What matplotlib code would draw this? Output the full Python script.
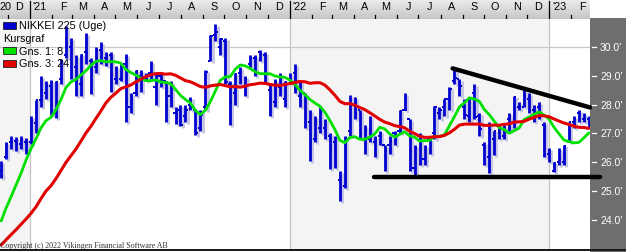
import numpy as np
import pandas as pd
import matplotlib
matplotlib.use("Agg")
import matplotlib.pyplot as plt
import matplotlib.dates as mdates
from matplotlib.patches import Rectangle
from matplotlib.transforms import blended_transform_factory
from matplotlib.colors import LinearSegmentedColormap

# ---------------- data (Nikkei 225 weekly, thousands) ----------------
week_end = pd.date_range("2020-11-20", periods=119, freq="W-FRI")

opens = [
    25.70, 26.20, 26.70, 26.75, 26.65, 26.70, 26.70,
    27.35, 28.15, 28.40, 28.65, 27.80, 28.90, 29.70, 30.00, 29.30, 28.70, 29.80, 29.50, 29.30,
    29.90, 29.60, 29.70, 28.90, 28.90, 29.40, 27.90, 28.40, 29.00, 28.95, 29.10, 28.60, 29.00,
    28.80, 28.30, 27.70, 27.80, 27.60, 28.00, 27.80, 27.20, 27.90, 29.50, 30.40, 30.00, 30.20,
    28.70, 28.40, 29.10, 28.60, 29.40, 29.60, 29.80, 29.70, 28.50, 28.10, 28.60, 28.20, 28.90,
    29.10, 28.30, 28.40, 27.40, 26.80, 27.20, 27.20, 26.90, 26.70, 25.40, 25.20, 27.10, 28.00,
    27.80, 26.80, 26.80, 26.70, 26.90, 26.60, 26.60, 27.00, 27.10, 27.80, 27.50, 25.80, 26.90,
    26.10, 26.80, 27.00, 27.70, 27.90, 28.20, 28.80, 28.90, 27.90, 27.60, 28.40, 27.60, 26.60,
    26.20, 26.80, 27.30, 26.90, 27.50, 27.40, 27.90, 27.90, 28.20, 27.80, 27.90, 27.30, 26.30,
    25.70, 26.00, 26.00, 26.70, 27.40, 27.70, 27.50, 27.50,
]
highs = [
    26.06, 26.71, 26.90, 26.89, 26.90, 26.85, 27.60,
    28.14, 28.98, 28.82, 28.86, 28.80, 29.56, 30.71, 30.30, 29.70, 29.75, 30.48, 29.60, 30.00,
    30.17, 29.83, 29.80, 29.35, 29.40, 29.75, 28.40, 29.20, 29.20, 29.10, 29.50, 29.10, 29.10,
    28.80, 28.80, 27.90, 28.00, 28.00, 28.25, 27.85, 27.80, 29.20, 30.40, 30.80, 30.30, 30.30,
    28.80, 29.10, 29.30, 29.00, 29.70, 29.70, 29.90, 29.80, 28.70, 28.90, 29.10, 28.80, 29.10,
    29.39, 28.80, 28.40, 27.80, 27.60, 27.90, 27.50, 27.00, 26.90, 25.70, 26.90, 28.34, 28.25,
    27.80, 27.30, 27.60, 26.90, 27.10, 26.60, 26.90, 27.10, 27.80, 28.39, 27.50, 26.60, 27.00,
    26.60, 26.80, 27.95, 27.90, 28.20, 28.60, 29.22, 28.90, 28.20, 28.22, 28.70, 27.70, 26.70,
    27.40, 27.10, 27.30, 27.30, 27.70, 28.30, 28.10, 28.50, 28.40, 28.00, 28.10, 27.40, 26.50,
    26.00, 26.50, 26.60, 27.40, 27.60, 27.80, 27.70, 27.60,
]
lows = [
    25.45, 26.10, 26.48, 26.38, 26.45, 26.30, 26.65,
    27.00, 27.90, 28.20, 27.63, 27.55, 28.70, 29.60, 28.90, 28.30, 28.30, 29.40, 28.38, 29.10,
    29.40, 29.35, 28.42, 28.70, 28.80, 27.38, 27.70, 28.30, 28.45, 28.80, 28.90, 28.00, 28.60,
    27.40, 27.90, 27.33, 27.27, 27.40, 27.80, 26.95, 27.10, 27.80, 29.50, 30.20, 29.70, 28.70,
    27.29, 28.00, 28.70, 28.30, 29.30, 29.00, 29.50, 28.75, 27.59, 27.90, 28.30, 27.90, 28.70,
    28.40, 27.90, 27.20, 26.04, 26.70, 27.00, 26.80, 25.78, 25.80, 24.68, 25.10, 26.90, 27.50,
    26.80, 26.30, 26.70, 26.20, 26.60, 25.69, 26.30, 26.60, 27.00, 27.80, 25.69, 25.52, 25.90,
    25.90, 26.30, 26.80, 27.50, 27.60, 27.80, 28.70, 28.30, 27.50, 27.40, 27.50, 26.90, 25.90,
    25.62, 26.24, 26.80, 26.80, 27.10, 27.20, 27.80, 27.90, 27.70, 27.40, 27.50, 26.20, 26.00,
    25.66, 25.90, 25.90, 26.70, 27.20, 27.40, 27.40, 27.20,
]
closes = [
    25.53, 26.64, 26.75, 26.65, 26.76, 26.66, 27.44,
    28.14, 28.52, 28.63, 27.66, 28.78, 29.52, 30.02, 28.97, 28.86, 29.72, 29.79, 29.18, 29.85,
    29.77, 29.68, 29.02, 28.81, 29.36, 28.08, 28.32, 29.15, 28.94, 28.95, 28.96, 29.07, 28.78,
    27.94, 28.00, 27.55, 27.28, 27.82, 27.98, 27.01, 27.64, 29.13, 30.38, 30.50, 30.25, 28.77,
    28.05, 29.07, 28.80, 28.89, 29.61, 29.61, 29.75, 28.75, 28.03, 28.44, 28.55, 28.78, 28.79,
    28.48, 28.12, 27.52, 26.72, 27.44, 27.70, 27.12, 26.48, 25.99, 25.16, 26.83, 28.15, 27.67,
    26.99, 27.09, 27.11, 26.85, 27.00, 26.43, 26.74, 26.78, 27.76, 27.82, 25.96, 26.49, 25.94,
    26.52, 26.79, 27.91, 27.80, 28.18, 28.55, 28.93, 28.64, 27.65, 28.21, 27.57, 27.15, 25.94,
    27.12, 27.09, 26.89, 27.11, 27.20, 28.26, 27.90, 28.28, 27.78, 27.90, 27.53, 26.24, 26.09,
    25.97, 26.12, 26.55, 27.38, 27.51, 27.67, 27.51, 27.45,
]
# weekly closes before the visible window (feed the moving averages)
pre_closes = [22.31, 22.48, 22.51, 22.31, 22.29, 22.70, 22.75, 21.71, 22.33, 23.29, 22.92, 22.88,
              23.21, 23.41, 23.36, 23.20, 23.03, 23.62, 23.41, 23.52, 22.98, 24.33, 25.39]
ma_short, ma_long = 8, 24

y_ticks = [30.0, 29.0, 28.0, 27.0, 26.0, 25.0, 24.0]
y_tick_labels = ["30.0'", "29.0'", "28.0'", "27.0'", "26.0'", "25.0'", "24.0'"]

month_starts = pd.date_range("2020-12-01", "2023-02-01", freq="MS")
month_labels = ["D", "'21", "F", "M", "A", "M", "J", "J", "A", "S", "O", "N", "D",
                "'22", "F", "M", "A", "M", "J", "J", "A", "S", "O", "N", "D", "'23", "F"]

top_line_dates = ["2022-08-18", "2023-02-27"]
top_line_vals = [29.25, 27.90]
bottom_line_dates = ["2022-04-29", "2023-03-13"]
bottom_line_vals = [25.48, 25.48]

legend_items = ["NIKKEI 225 (Uge)", "Kursgraf", "Gns. 1: 8", "Gns. 3: 24"]

# ---------------- figure ----------------
W, H = 626, 253
fig = plt.figure(figsize=(W / 100, H / 100), dpi=100)
fig.patch.set_facecolor("white")
FONT = "Liberation Sans"

PX_PER_DAY = 0.7115
jan21 = mdates.date2num(pd.Timestamp("2021-01-01"))
xl = jan21 - 30 / PX_PER_DAY
xr = xl + 590 / PX_PER_DAY
y_top, y_bot = 30.958, 23.005

def fxy(px, py):
    return px / W, 1 - py / H

# right dark panel (as its own axes, drawn underneath the main axes)
rax = fig.add_axes([590 / W, 0, 36 / W, 1 - 19 / H], zorder=0)
rax.set_facecolor("#6e6e6e")
rax.set_xticks([]); rax.set_yticks([])
for s in rax.spines.values():
    s.set_visible(False)

ax = fig.add_axes([0, 1 - 250 / H, 590 / W, 230 / H], zorder=1)
ax.set_xlim(xl, xr)
ax.set_ylim(y_bot, y_top)
ax.set_facecolor("white")
for s in ax.spines.values():
    s.set_visible(False)
ax.set_xticks([])
ax.set_yticks([])

# year bands and separators
years = [pd.Timestamp(y) for y in ["2020-01-01", "2021-01-01", "2022-01-01", "2023-01-01", "2024-01-01"]]
for i in range(len(years) - 1):
    if i % 2 == 0:
        ax.axvspan(mdates.date2num(years[i]), mdates.date2num(years[i + 1]),
                   color="#f4f4f4", lw=0, zorder=0)
for y in years[1:4]:
    ax.axvline(mdates.date2num(y), color="#c4c4c4", lw=0.9, zorder=1)
ax.axhline(30.0, color="#c8c8c8", lw=0.9, zorder=1)

xb = mdates.date2num(week_end) + 1.5
o = np.array(opens); h = np.array(highs); l = np.array(lows); c = np.array(closes)
tick = 2.2 / PX_PER_DAY
dx, dy = 2.2 / PX_PER_DAY, 2.0 / 28.92

# shadow
sh = "#c4c4e2"
ax.vlines(xb + dx, l - dy, h - dy, color=sh, lw=2.0, zorder=2)
ax.hlines(c - dy, xb + dx, xb + dx + tick, color=sh, lw=1.4, zorder=2)
# bars
bc = "#0000d0"
ax.vlines(xb, l, h, color=bc, lw=2.0, zorder=3)
ax.hlines(o, xb - tick, xb, color=bc, lw=1.4, zorder=3)
ax.hlines(c, xb, xb + tick, color=bc, lw=1.4, zorder=3)

all_c = pd.Series(pre_closes + closes)
n_pre = len(pre_closes)
ma8 = all_c.rolling(ma_short).mean().iloc[n_pre:].to_numpy()
ma24 = all_c.rolling(ma_long).mean().iloc[n_pre:].to_numpy()
ax.plot(xb, ma8, color="#00e000", lw=2.0, zorder=4, solid_capstyle="round")
ax.plot(xb, ma24, color="#e00000", lw=2.2, zorder=5, solid_capstyle="round")

# trend lines
ax.plot(mdates.date2num(pd.to_datetime(top_line_dates)), top_line_vals, color="black",
        lw=3.2, solid_capstyle="round", zorder=6, clip_on=False)
ax.plot(mdates.date2num(pd.to_datetime(bottom_line_dates)), bottom_line_vals, color="black",
        lw=3.2, solid_capstyle="round", zorder=6, clip_on=False)

# right axis ticks/labels
tr = blended_transform_factory(ax.transAxes, ax.transData)
for v, lab in zip(y_ticks, y_tick_labels):
    ax.plot([1 + 1.5 / 590, 1 + 6 / 590], [v, v], color="white", lw=0.9, transform=tr,
            clip_on=False, zorder=7)
    ax.text(1 + 10 / 590, v, lab, transform=tr, color="white", fontsize=7.5, family=FONT,
            va="center", ha="left", clip_on=False, zorder=7)

# legend
leg_y = [26, 39.3, 51.7, 64.3]
leg_col = ["#0000d0", None, "#00e000", "#e00000"]
for yy, txt, col in zip(leg_y, legend_items, leg_col):
    if col is not None:
        x0, y0 = fxy(3, yy + 3.5)
        fig.patches.append(Rectangle((x0, y0), 13 / W, 7 / H, transform=fig.transFigure,
                                     facecolor=col, edgecolor="#202020", lw=0.6, zorder=10))
    tx, ty = fxy(19 if col is not None else 3, yy)
    fig.text(tx, ty, txt, fontsize=7.8, family=FONT, va="center", ha="left", zorder=10)

# copyright
cx, cy = fxy(0, 246)
fig.text(cx, cy, "Copyright (c) 2022 Vikingen Financial Software AB", fontsize=5.8,
         family="Liberation Serif", color="#333333", va="center", ha="left", zorder=10)

# top month strip
sax = fig.add_axes([0, 1 - 20 / H, 590 / W, 20 / H], zorder=2)
grad = np.linspace(0, 1, 50).reshape(-1, 1)
cmap = LinearSegmentedColormap.from_list("g", ["#ededed", "#c6c6c6"])
sax.imshow(grad, aspect="auto", cmap=cmap, extent=[xl, xr, 20, 0], zorder=0)
sax.set_xlim(xl, xr)
sax.set_ylim(20, 0)
sax.axis("off")
ms = mdates.date2num(month_starts)
for m, lab in zip(ms, month_labels):
    if lab.startswith("'"):
        sax.plot([m, m], [2, 19], color="black", lw=0.9, zorder=2)
        sax.text(m + 2.5 / PX_PER_DAY, 7.5, lab, fontsize=7.8, family=FONT, va="center", ha="left")
    else:
        sax.plot([m, m], [15.5, 19], color="black", lw=0.9, zorder=2)
        sax.text(m + 15.5, 7.5, lab, fontsize=7.8, family=FONT, va="center", ha="center")
sax.text(xl, 7.5, "20", fontsize=7.8, family=FONT, va="center", ha="left")
sax.plot([xl, xr], [19.6, 19.6], color="#9a9a9a", lw=0.8)

# bottom border line
fig.patches.append(Rectangle((0, 1 / H), 1, 2 / H, transform=fig.transFigure,
                             facecolor="#1a1a1a", edgecolor="none", zorder=20))

fig.savefig("out.png", dpi=100)
